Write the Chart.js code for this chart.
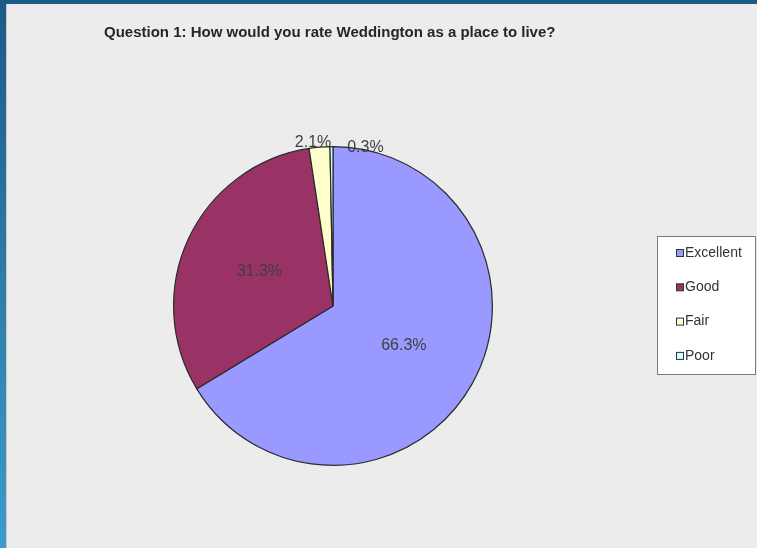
<!DOCTYPE html>
<html>
<head>
<meta charset="utf-8">
<script src="https://cdn.jsdelivr.net/npm/chart.js@4"></script>
<style>
  html, body { margin: 0; padding: 0; background: #ececec; }
  #wrap { width: 757px; height: 548px; position: relative; }
</style>
</head>
<body>
<div id="wrap"><canvas id="myChart" width="757" height="548"></canvas></div>
<script>
// data
const categories = ['Excellent', 'Good', 'Fair', 'Poor']
const values = [66.3, 31.3, 2.1, 0.3]
const colors = ['#9999ff', '#993366', '#ffffcc', '#ccffff']
const chartTitle = 'Question 1: How would you rate Weddington as a place to live?'

// background with blue frame on left / top
const background = {
  id: 'background',
  beforeDraw(chart) {
    const c = chart.ctx
    const g = c.createLinearGradient(0, 0, 0, chart.height)
    g.addColorStop(0, '#1d5a86')
    g.addColorStop(1, '#3d9cca')
    c.save()
    c.fillStyle = g
    c.fillRect(0, 0, chart.width, chart.height)
    c.fillStyle = '#ececec'
    c.fillRect(6, 4, chart.width - 6, chart.height - 4)
    c.fillStyle = '#c9c9c9'
    c.fillRect(6, 4, 1, chart.height - 4)
    c.restore()
  }
}

// title + slice labels + legend box
const extras = {
  id: 'extras',
  afterDraw(chart) {
    const c = chart.ctx
    c.save()
    // title
    c.fillStyle = '#262626'
    c.font = 'bold 15px "Liberation Sans", Arial, sans-serif'
    c.textBaseline = 'middle'
    c.textAlign = 'left'
    c.fillText(chartTitle, 104, 33)

    // percentage labels
    const arcs = chart.getDatasetMeta(0).data
    c.font = '16px "Liberation Sans", Arial, sans-serif'
    c.fillStyle = '#404040'
    c.textAlign = 'center'
    arcs.forEach(function(a, i) {
      const mid = (a.startAngle + a.endAngle) / 2
      let r = a.outerRadius * 0.51
      let dx = 0, dy = 0
      if (values[i] < 5) {
        r = a.outerRadius + 5
        dx = i == 2 ? -6 : 34
        dy = i == 2 ? 0 : 6
      }
      const x = a.x + Math.cos(mid) * r + dx
      const y = a.y + Math.sin(mid) * r + dy
      c.fillText(values[i].toFixed(1) + '%', x, y)
    })

    // legend
    const lx = 657, ly = 236, lw = 98, lh = 138
    c.fillStyle = '#ffffff'
    c.fillRect(lx, ly, lw, lh)
    c.strokeStyle = '#7a7a7a'
    c.lineWidth = 1
    c.strokeRect(lx + 0.5, ly + 0.5, lw, lh)
    c.textAlign = 'left'
    c.font = '14px "Liberation Sans", Arial, sans-serif'
    categories.forEach(function(name, i) {
      const y = ly + 17 + i * 34.3
      c.fillStyle = colors[i]
      c.fillRect(676.5, y - 3.5, 7, 7)
      c.strokeStyle = '#333'
      c.strokeRect(676.5, y - 3.5, 7, 7)
      c.fillStyle = '#333'
      c.fillText(name, 685, y)
    })
    c.restore()
  }
}

const ctx = document.getElementById('myChart')

new Chart(ctx, {
  type: 'pie',
  data: {
    labels: categories,
    datasets: [{
      data: values,
      backgroundColor: colors,
      borderColor: '#2a2a2a',
      borderWidth: 1.2
    }]
  },
  options: {
    responsive: false,
    animation: false,
    layout: { padding: { left: 173, right: 264, top: 146, bottom: 82 } },
    plugins: {
      legend: { display: false },
      tooltip: { enabled: false },
      title: { display: false }
    }
  },
  plugins: [background, extras]
})
</script>
</body>
</html>
